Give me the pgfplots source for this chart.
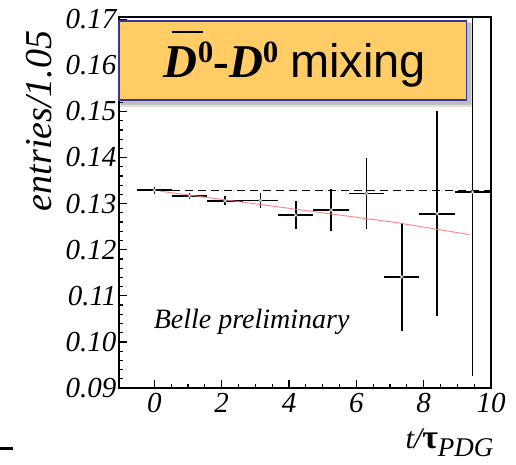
\documentclass[border=0pt]{standalone}
\usepackage{fontspec}
\setmainfont{Liberation Serif}
\newfontfamily\arialfont{Liberation Sans}
\usepackage{pgfplots}
\pgfplotsset{compat=1.18}
\definecolor{boxfill}{HTML}{FFCC66}
\definecolor{boxline}{HTML}{35359C}
\definecolor{fitred}{HTML}{FF7A7A}
\newcommand{\Dbar}{\rlap{\kern0.17em\rule[0.93em]{0.66em}{0.06em}}D}
\newcommand{\supz}{\raisebox{0.30em}{\fontsize{31}{31}\selectfont\bfseries\upshape 0}}

\pgfplotstableread{
x     y      ex     ey
0     0.1329 0.525  0.0007
1.05  0.1317 0.525  0.0006
2.1   0.1306 0.525  0.0010
3.15  0.1307 0.525  0.0016
4.2   0.1275 0.525  0.0030
5.25  0.1286 0.525  0.0045
6.3   0.1322 0.525  0.0076
7.35  0.1141 0.525  0.0118
8.4   0.1278 0.525  0.0222
9.45  0.1325 0.525  0.0398
}\bins

\begin{document}
\begin{tikzpicture}
\useasboundingbox (0,0) rectangle (516pt,464pt);
\begin{axis}[
  at={(119pt,76pt)}, anchor=south west,
  width=372pt, height=371pt, scale only axis,
  xmin=-1.05, xmax=10, ymin=0.09, ymax=0.1705,
  axis line style={line width=1.4pt},
  tick align=inside, xtick pos=bottom, ytick pos=left,
  xtick={0,2,4,6,8,10}, minor x tick num=3,
  ytick={0.09,0.10,0.11,0.12,0.13,0.14,0.15,0.16,0.17}, minor y tick num=4,
  major tick length=8pt, minor tick length=4pt,
  every tick/.style={black, line width=1.2pt},
  /pgf/number format/assume math mode=true,
  tick label style={font=\itshape\fontsize{29}{29}\selectfont},
  yticklabel style={/pgf/number format/fixed, /pgf/number format/fixed zerofill,
    /pgf/number format/precision=2, xshift=1pt},
  xticklabel style={yshift=-2pt},
  xlabel={{\itshape t/}{\fontsize{34}{34}\selectfont\bfseries τ}\raisebox{-8pt}{\itshape\fontsize{27}{27}\selectfont PDG}},
  every axis x label/.style={at={(rel axis cs:1.016,-0.162)}, anchor=base east,
    font=\fontsize{30}{30}\selectfont},
  ylabel={entries/1.05},
  every axis y label/.style={at={(rel axis cs:-0.215,0.973)}, rotate=90, anchor=east,
    font=\itshape\fontsize{38}{38}\selectfont},
]
\addplot[black, line width=1.5pt, dash pattern=on 8pt off 5pt]
  coordinates {(0.525,0.1329) (10,0.1329)};
\addplot[only marks, black, mark=*, mark size=1.6pt,
  mark options={fill=white, draw=gray, line width=0.6pt},
  error bars/.cd, x dir=both, x explicit, y dir=both, y explicit,
  error mark=none, error bar style={line width=1.6pt, black}]
  table[x=x, y=y, x error=ex, y error=ey] {\bins};
\addplot[fitred, line width=1pt, opacity=0.85]
  coordinates {(0.18,0.1327) (7.18,0.1259) (9.35,0.1233)};
\node[anchor=base west, font=\itshape\fontsize{28}{28}\selectfont]
  at (axis cs:-0.12,0.1030) {Belle preliminary};
\coordinate (bsw) at (rel axis cs:0,0.776);
\coordinate (bne) at (rel axis cs:0.935,0.989);
\coordinate (btx) at (rel axis cs:0.473,0.838);
\end{axis}
% soft grey shadow under the title box
\fill[black, opacity=0.12] ([xshift=1pt,yshift=-7pt]bsw) rectangle ([xshift=6pt,yshift=-1pt]bne);
\fill[black, opacity=0.15] ([xshift=2pt,yshift=-5pt]bsw) rectangle ([xshift=4pt,yshift=-2pt]bne);
\filldraw[fill=boxfill, draw=boxline, line width=1.2pt] (bsw) rectangle (bne);
\node[anchor=base, font=\fontsize{47}{47}\selectfont, inner sep=0pt] at (btx)
  {{\bfseries\itshape\Dbar}\supz{\bfseries -}{\bfseries\itshape D}\supz\ {\arialfont mixing}};
\draw[line width=3pt] (0pt,16pt) -- (13pt,16pt);
\end{tikzpicture}
\end{document}
